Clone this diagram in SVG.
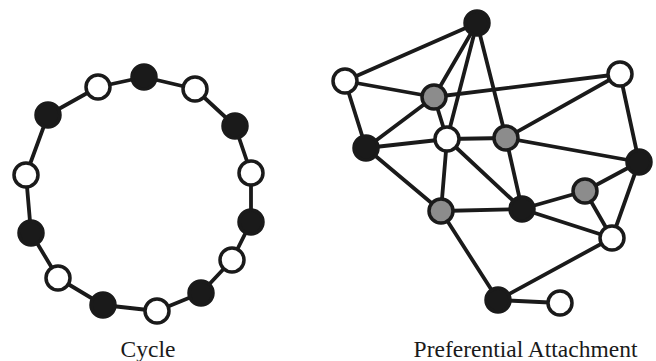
<svg xmlns="http://www.w3.org/2000/svg" width="656" height="361" viewBox="0 0 656 361">
  <style>
    .edge { stroke: #1a1a1a; stroke-width: 3.8; fill: none; stroke-linecap: round; stroke-linejoin: round; }
    .node { stroke: #1a1a1a; stroke-width: 3.5; }
    .black { fill: #1a1a1a; }
    .white { fill: #ffffff; }
    .gray { fill: #8c8c8c; }
    .caption { font-family: "Liberation Serif", "Times New Roman", serif; font-size: 23.5px; fill: #1a1a1a; text-anchor: middle; }
  </style>
  <rect width="656" height="361" fill="#ffffff"/>

  <!-- Cycle graph -->
  <g id="cycle-edges">
    <polygon class="edge" points="144,77 195,89 235,126 251,173 251,222 232,260 201,293 157,311 103,305 58,278 31,233 26,175 48,115 98,87"/>
  </g>
  <g id="cycle-nodes">
    <g id="c1"><circle class="node black" cx="144" cy="77" r="12"/></g>
    <g id="c2"><circle class="node white" cx="195" cy="89" r="12"/></g>
    <g id="c3"><circle class="node black" cx="235" cy="126" r="12"/></g>
    <g id="c4"><circle class="node white" cx="251" cy="173" r="12"/></g>
    <g id="c5"><circle class="node black" cx="251" cy="222" r="12"/></g>
    <g id="c6"><circle class="node white" cx="232" cy="260" r="12"/></g>
    <g id="c7"><circle class="node black" cx="201" cy="293" r="12"/></g>
    <g id="c8"><circle class="node white" cx="157" cy="311" r="12"/></g>
    <g id="c9"><circle class="node black" cx="103" cy="305" r="12"/></g>
    <g id="c10"><circle class="node white" cx="58" cy="278" r="12"/></g>
    <g id="c11"><circle class="node black" cx="31" cy="233" r="12"/></g>
    <g id="c12"><circle class="node white" cx="26" cy="175" r="12"/></g>
    <g id="c13"><circle class="node black" cx="48" cy="115" r="12"/></g>
    <g id="c14"><circle class="node white" cx="98" cy="87" r="12"/></g>
  </g>
  <text class="caption" x="148" y="357">Cycle</text>

  <!-- Preferential attachment graph -->
  <g id="pa-edges">
    <line class="edge" x1="477" y1="23" x2="345" y2="81"/>
    <line class="edge" x1="477" y1="23" x2="434" y2="97"/>
    <line class="edge" x1="477" y1="23" x2="447" y2="139"/>
    <line class="edge" x1="477" y1="23" x2="506" y2="138"/>
    <line class="edge" x1="345" y1="81" x2="434" y2="97"/>
    <line class="edge" x1="345" y1="81" x2="366" y2="148"/>
    <line class="edge" x1="434" y1="97" x2="620" y2="74"/>
    <line class="edge" x1="434" y1="97" x2="366" y2="148"/>
    <line class="edge" x1="434" y1="97" x2="447" y2="139"/>
    <line class="edge" x1="366" y1="148" x2="447" y2="139"/>
    <line class="edge" x1="447" y1="139" x2="506" y2="138"/>
    <line class="edge" x1="620" y1="74" x2="506" y2="138"/>
    <line class="edge" x1="620" y1="74" x2="639" y2="162"/>
    <line class="edge" x1="506" y1="138" x2="639" y2="162"/>
    <line class="edge" x1="366" y1="148" x2="441" y2="211"/>
    <line class="edge" x1="447" y1="139" x2="441" y2="211"/>
    <line class="edge" x1="447" y1="139" x2="522" y2="209"/>
    <line class="edge" x1="506" y1="138" x2="522" y2="209"/>
    <line class="edge" x1="441" y1="211" x2="522" y2="209"/>
    <line class="edge" x1="522" y1="209" x2="585" y2="191"/>
    <line class="edge" x1="522" y1="209" x2="612" y2="238"/>
    <line class="edge" x1="585" y1="191" x2="639" y2="162"/>
    <line class="edge" x1="585" y1="191" x2="612" y2="238"/>
    <line class="edge" x1="639" y1="162" x2="612" y2="238"/>
    <line class="edge" x1="441" y1="211" x2="498" y2="300"/>
    <line class="edge" x1="612" y1="238" x2="498" y2="300"/>
    <line class="edge" x1="498" y1="300" x2="560" y2="303"/>
  </g>
  <g id="pa-nodes">
    <g id="p-top"><circle class="node black" cx="477" cy="23" r="12"/></g>
    <g id="p-left"><circle class="node white" cx="345" cy="81" r="12"/></g>
    <g id="p-hubA"><circle class="node gray" cx="434" cy="97" r="12"/></g>
    <g id="p-topright"><circle class="node white" cx="620" cy="74" r="12"/></g>
    <g id="p-midleft"><circle class="node black" cx="366" cy="148" r="12"/></g>
    <g id="p-center"><circle class="node white" cx="447" cy="139" r="12"/></g>
    <g id="p-hubB"><circle class="node gray" cx="506" cy="138" r="12"/></g>
    <g id="p-right"><circle class="node black" cx="639" cy="162" r="12"/></g>
    <g id="p-hubC"><circle class="node gray" cx="441" cy="211" r="12"/></g>
    <g id="p-lowcenter"><circle class="node black" cx="522" cy="209" r="12"/></g>
    <g id="p-hubD"><circle class="node gray" cx="585" cy="191" r="12"/></g>
    <g id="p-lowright"><circle class="node white" cx="612" cy="238" r="12"/></g>
    <g id="p-bottom"><circle class="node black" cx="498" cy="300" r="12"/></g>
    <g id="p-leaf"><circle class="node white" cx="560" cy="303" r="12"/></g>
  </g>
  <text class="caption" x="525.5" y="357">Preferential Attachment</text>
</svg>
